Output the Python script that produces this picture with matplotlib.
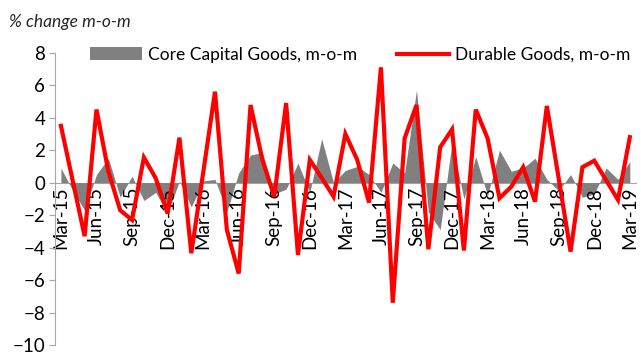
import numpy as np
import pandas as pd
import matplotlib
matplotlib.use("Agg")
import matplotlib.pyplot as plt
from matplotlib.patches import Patch
from matplotlib.lines import Line2D

plt.rcParams['font.family'] = ['Lato', 'DejaVu Sans']

# monthly data, Mar-15 .. Mar-19
months = pd.date_range('2015-03-01', '2019-03-01', freq='MS')
month_labels = [d.strftime('%b-%y') for d in months]

core_capital = [0.9, -0.5, -1.7, 0.5, 1.5, -0.9, 0.4, -1.1, -0.6, -1.9,
                0.1, -1.5, 0.1, 0.2, -1.8, 0.6, 1.7, 1.85, -0.7, -0.4,
                1.2, -0.6, 2.7, 0.0, 0.75, 1.0, 0.5, -0.6, 1.2, 0.6,
                5.7, -1.8, -2.9, 2.5, -1.0, 1.6, -0.8, 2.0, 0.7, 0.9,
                1.5, 0.2, -0.5, 0.5, -0.9, -0.7, 0.9, 0.2, 1.3]

durable = [3.5, 0.1, -3.3, 4.5, 0.7, -1.7, -2.3, 1.55, 0.27, -1.9,
           2.77, -4.35, 0.6, 5.6, -2.9, -5.6, 4.78, 1.4, -0.86, 4.9,
           -4.45, 1.4, 0.3, -0.86, 3.0, 1.4, -1.23, 7.1, -7.4, 2.73,
           4.78, -4.1, 2.18, 3.28, -4.18, 4.5, 2.73, -0.96, -0.25, 0.95,
           -1.17, 4.72, 0.25, -4.25, 0.95, 1.35, 0.15, -1.06, 2.8]

x = np.arange(len(months))

fig = plt.figure(figsize=(6.41, 3.54), dpi=100)
ax = fig.add_axes([0.0858, 0.0254, 0.906, 0.8257])

ax.fill_between(x, 0, core_capital, color='#808080', linewidth=0, zorder=1)
# red line sits on top of the month labels, like the original
ax.plot(x, durable, color='#ff0000', linewidth=3, solid_joinstyle='miter',
        zorder=4)

# spine position first, it resets the ticks
for s in ['top', 'right']:
    ax.spines[s].set_visible(False)
ax.spines['bottom'].set_position(('data', 0))
ax.spines['bottom'].set_color('#a6a6a6')
ax.spines['left'].set_color('#a6a6a6')
ax.spines['bottom'].set_zorder(0.5)

ax.set_xlim(-0.5, len(x) - 0.5)
ax.set_ylim(-10, 8)
ax.set_yticks(np.arange(-10, 9, 2))
ax.set_xticks(x[::3])
ax.set_xticklabels(month_labels[::3])

ax.tick_params(axis='y', colors='#a6a6a6', labelcolor='black', labelsize=13.5,
               length=4, pad=3)
ax.tick_params(axis='x', colors='#a6a6a6', labelcolor='black', labelsize=13.5,
               length=0, pad=3, labelrotation=90)
for lbl in ax.get_xticklabels():
    lbl.set_va('top')
    lbl.set_ha('center')

fig.text(0.014, 0.938, '% change m-o-m', fontsize=12.5, style='italic',
         color='#262626', va='center', ha='left')

handles = [Patch(facecolor='#808080', edgecolor='none'),
           Line2D([], [], color='#ff0000', linewidth=3)]
fig.legend(handles, ['Core Capital Goods, m-o-m', 'Durable Goods, m-o-m'],
           loc='center left', bbox_to_anchor=(0.116, 0.845), ncol=2,
           frameon=False, fontsize=12.5, handlelength=3.0, handleheight=0.8,
           columnspacing=2.3, handletextpad=0.35)

fig.savefig('out.png', dpi=100)
